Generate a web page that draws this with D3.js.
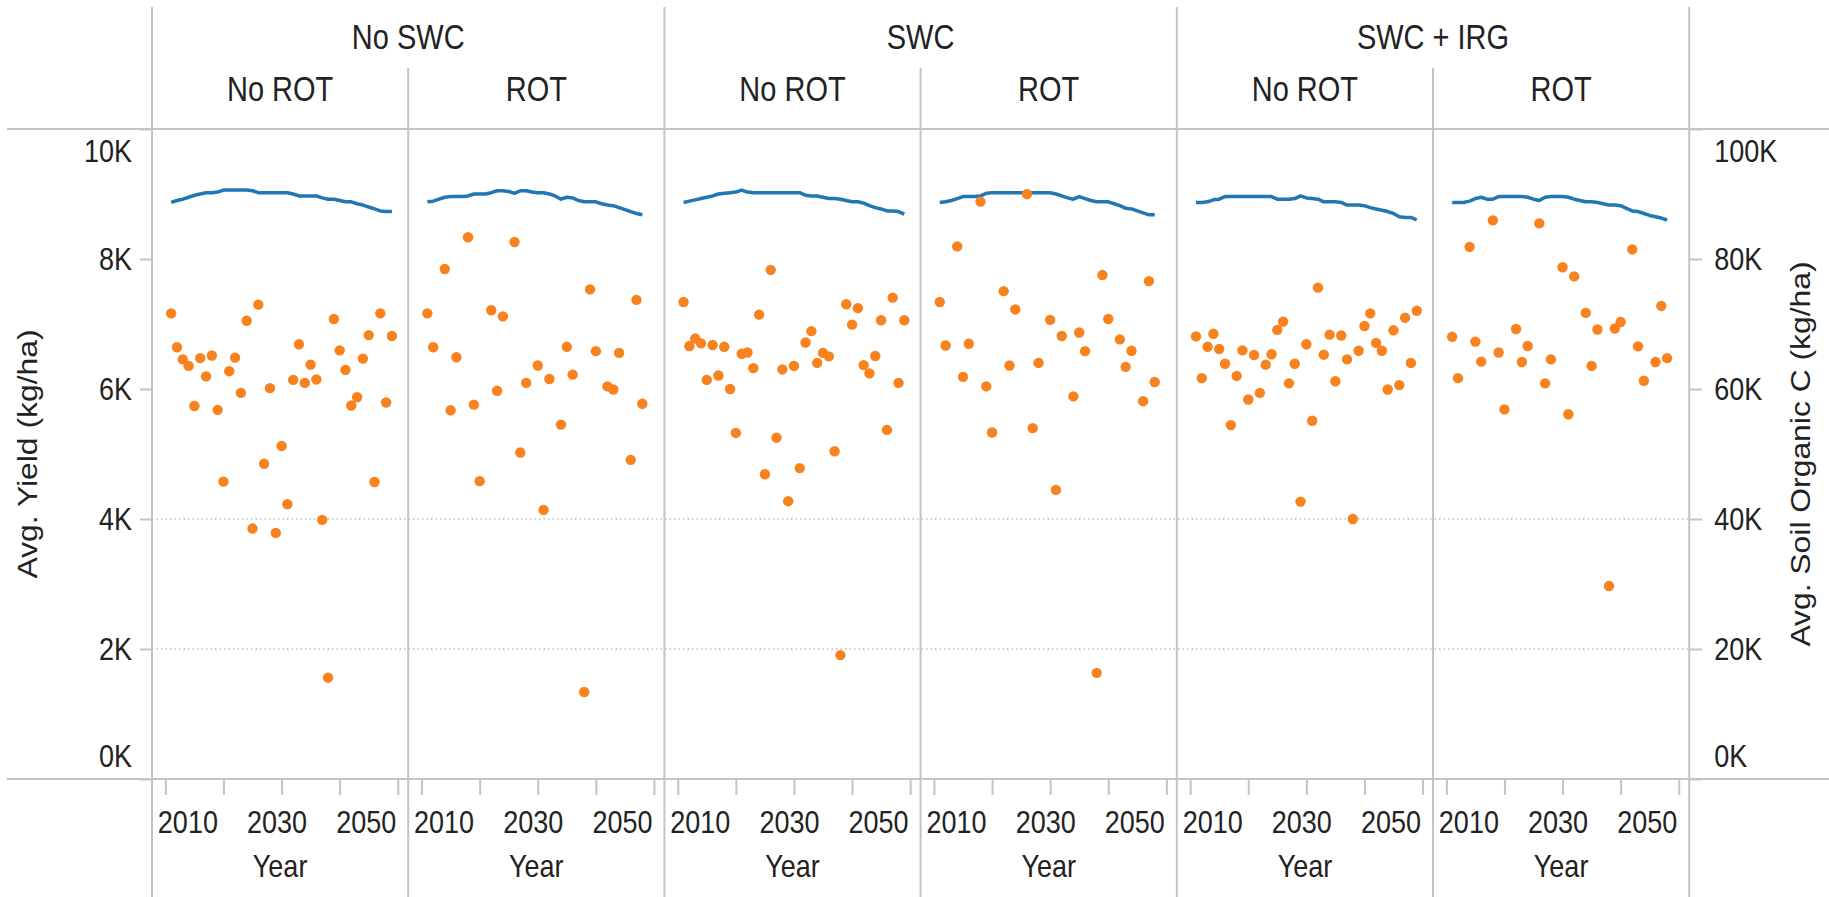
<!DOCTYPE html>
<html>
<head>
<meta charset="utf-8">
<script src="https://cdn.jsdelivr.net/npm/d3@7"></script>
<style>
  body { margin: 0; background: #fff; }
  text { font-family: "Liberation Sans", Arial, sans-serif; fill: #222; }
</style>
</head>
<body>
<svg id="chart" width="1829" height="897"></svg>
<script>
// categories
const groups = ["No SWC", "SWC", "SWC + IRG"];
const rotations = ["No ROT", "ROT"];
const years = [2011, 2012, 2013, 2014, 2015, 2016, 2017, 2018, 2019, 2020,
               2021, 2022, 2023, 2024, 2025, 2026, 2027, 2028, 2029, 2030,
               2031, 2032, 2033, 2034, 2035, 2036, 2037, 2038, 2039, 2040,
               2041, 2042, 2043, 2044, 2045, 2046, 2047, 2048, 2049];
const yearTicks = [2010, 2020, 2030, 2040, 2050];
const yieldTicks = [0, 2000, 4000, 6000, 8000, 10000];
const socTicks = [0, 20000, 40000, 60000, 80000, 100000];
const gridTicks = [2000, 4000];

// Avg. Yield (kg/ha), one value per year, null = no crop that year
const yieldNoSwcNoRot = [7164, 6642, 6455, 6355, 5739, 6475, 6194, 6515, 5679, 4575,
  6274, 6482, 5940, 7050, 3853, 7298, 4849, 6013, 3786, 5124,
  4227, 6140, 6689, 6094, 6375, 6147, 3987, 1559, 7077, 6595,
  6294, 5746, 5873, 6468, 6829, 4569, 7164, 5793, 6816];
const yieldNoSwcRot = [7164, 6642, null, 7846, 5672, 6488, null, 8334, 5759, 4582,
  null, 7211, 5973, 7117, null, 8261, 5023, 6094, null, 6361,
  4140, 6154, null, 5452, 6649, 6221, null, 1338, 7532, 6582,
  null, 6040, 5993, 6555, null, 4910, 7371, 5773, null];
const yieldSwcNoRot = [7338, 6662, 6776, 6702, 6140, 6676, 6207, 6649, 6000, 5324,
  6542, 6562, 6321, 7144, 4689, 7833, 5251, 6301, 4274, 6355,
  4783, 6716, 6890, 6401, 6555, 6502, 5043, 1906, 7304, 6990,
  7244, 6368, 6241, 6508, 7057, 5371, 7405, 6094, 7057];
const yieldSwcRot = [7338, 6669, null, 8194, 6187, 6696, null, 8883, 6040, 5331,
  null, 7505, 6361, 7224, null, 8997, 5398, 6401, null, 7064,
  4448, 6816, null, 5886, 6870, 6582, null, 1632, 7753, 7077,
  null, 6763, 6341, 6589, null, 5813, 7659, 6107, null];
const yieldIrgNoRot = [6809, 6167, 6649, 6849, 6615, 6388, 5445, 6201, 6595, 5839,
  6522, 5940, 6375, 6535, 6910, 7037, 6087, 6388, 4268, 6689,
  5512, 7559, 6528, 6836, 6120, 6823, 6455, 4000, 6589, 6970,
  7164, 6709, 6589, 5993, 6903, 6060, 7097, 6401, 7204];
const yieldIrgRot = [6803, 6167, null, 8187, 6729, 6421, null, 8595, 6562, 5686,
  null, 6923, 6415, 6662, null, 8548, 6087, 6455, null, 7873,
  5612, 7732, null, 7171, 6355, 6916, null, 2970, 6930, 7030,
  null, 8147, 6656, 6127, null, 6415, 7278, 6475, null];

// Avg. Soil Organic C (kg/ha)
const socNoSwcNoRot = [88700, 89000, 89200, 89500, 89800, 90000, 90200, 90200, 90300, 90600,
  90600, 90600, 90600, 90600, 90500, 90200, 90200, 90200, 90200, 90200,
  90200, 90000, 89700, 89700, 89700, 89700, 89400, 89200, 89200, 89000,
  88800, 88800, 88500, 88300, 88000, 87700, 87400, 87300, 87300];
const socNoSwcRot = [88800, 88900, 89200, 89500, 89600, 89600, 89600, 89700, 90000, 90000,
  90000, 90200, 90500, 90500, 90400, 90100, 90500, 90500, 90300, 90200,
  90200, 90000, 89700, 89200, 89500, 89400, 89000, 88800, 88800, 88800,
  88500, 88300, 88200, 87900, 87600, 87300, 87000, 86800, null];
const socSwcNoRot = [88700, 88900, 89100, 89300, 89500, 89700, 90000, 90100, 90200, 90300,
  90600, 90300, 90200, 90200, 90200, 90200, 90200, 90200, 90200, 90200,
  90200, 89800, 89700, 89700, 89500, 89300, 89300, 89200, 89000, 88800,
  88800, 88600, 88200, 87900, 87700, 87400, 87400, 87300, 86900];
const socSwcRot = [88700, 88800, 89000, 89300, 89600, 89600, 89600, 89700, 90100, 90200,
  90200, 90200, 90200, 90200, 90200, 90200, 90200, 90200, 90200, 90200,
  90000, 89700, 89400, 89200, 89600, 89300, 89000, 88800, 88800, 88800,
  88500, 88200, 87800, 87700, 87400, 87100, 86800, 86800, null];
const socIrgNoRot = [88700, 88700, 88800, 89100, 89200, 89600, 89600, 89600, 89600, 89600,
  89600, 89600, 89600, 89600, 89200, 89200, 89200, 89300, 89700, 89400,
  89300, 89200, 88800, 88800, 88800, 88700, 88300, 88300, 88300, 88200,
  87900, 87700, 87500, 87300, 87000, 86500, 86400, 86400, 86000];
const socIrgRot = [88700, 88700, 88700, 88900, 89300, 89500, 89200, 89200, 89600, 89600,
  89600, 89600, 89600, 89500, 89200, 89000, 89500, 89600, 89600, 89600,
  89500, 89200, 89000, 88800, 88800, 88700, 88500, 88300, 88300, 88200,
  87800, 87400, 87300, 87000, 86700, 86500, 86300, 86000, null];

const yieldSeries = [yieldNoSwcNoRot, yieldNoSwcRot, yieldSwcNoRot, yieldSwcRot, yieldIrgNoRot, yieldIrgRot];
const socSeries = [socNoSwcNoRot, socNoSwcRot, socSwcNoRot, socSwcRot, socIrgNoRot, socIrgRot];

// layout
const W = 1829, H = 897;
const padLeft = 152, paneW = 256.2, plotTop = 129, plotBottom = 779;
const SY = 1.18; // the picture is a little taller than wide, text too
const gridColor = "#c4c4c4";
const blue = "#1f77b4", orange = "#f7821e";

const svg = d3.select("#chart");

const x = d3.scaleLinear().domain([2007.7, 2051.8]).range([0, paneW]);
const y = d3.scaleLinear().domain([0, 10000]).range([plotBottom, plotTop]);
const y2 = d3.scaleLinear().domain([0, 100000]).range([plotBottom, plotTop]);

const label = (g, tx, ty, str, size, anchor, rot) =>
  g.append("text")
    .attr("transform", `translate(${tx},${ty}) scale(1,${SY})` + (rot ? " rotate(-90)" : ""))
    .attr("text-anchor", anchor)
    .attr("font-size", size)
    .text(str);

// dotted grid lines
svg.append("g").selectAll("line")
  .data(gridTicks)
  .join("line")
  .attr("x1", padLeft).attr("x2", padLeft + 6 * paneW)
  .attr("y1", d => y(d)).attr("y2", d => y(d))
  .attr("stroke", "#bdbdbd").attr("stroke-width", 1.5)
  .attr("stroke-dasharray", "1.5,3");

// frame lines
const frame = svg.append("g").attr("stroke", gridColor).attr("stroke-width", 2);
[plotTop, plotBottom].forEach(v => frame.append("line").attr("x1", 7).attr("x2", W).attr("y1", v).attr("y2", v));
d3.range(7).forEach(k => {
  frame.append("line")
    .attr("x1", padLeft + k * paneW).attr("x2", padLeft + k * paneW)
    .attr("y1", k % 2 === 0 ? 7 : 68).attr("y2", H);
});

// headers
groups.forEach((g, gi) => label(svg, padLeft + paneW * (2 * gi + 1), 49, g, 29, "middle"));

const line = d3.line()
  .defined(d => d.v != null)
  .x(d => x(d.year))
  .y(d => y2(d.v));

yieldSeries.forEach((ys, i) => {
  const pg = svg.append("g").attr("transform", `translate(${padLeft + i * paneW},0)`);
  label(pg, paneW / 2, 101, rotations[i % 2], 29, "middle");

  pg.append("path")
    .datum(years.map((yr, k) => ({year: yr, v: socSeries[i][k]})))
    .attr("fill", "none")
    .attr("stroke", blue)
    .attr("stroke-width", 3.5)
    .attr("stroke-linejoin", "round")
    .attr("d", line);

  pg.selectAll("circle")
    .data(years.map((yr, k) => ({year: yr, v: ys[k]})).filter(d => d.v != null))
    .join("circle")
    .attr("cx", d => x(d.year))
    .attr("cy", d => y(d.v))
    .attr("r", 5.2)
    .attr("fill", orange);

  const ax = pg.append("g")
    .attr("transform", `translate(0,${plotBottom})`)
    .call(d3.axisBottom(x).tickValues(yearTicks).tickSize(16).tickFormat(d => d % 20 === 10 ? d : ""));
  ax.select(".domain").remove();
  ax.selectAll(".tick line").attr("stroke", gridColor).attr("stroke-width", 2);
  ax.selectAll(".tick text")
    .attr("y", null).attr("dy", null)
    .attr("font-size", 27)
    .attr("font-family", null)
    .attr("fill", null)
    .attr("text-anchor", d => d === 2010 ? "start" : d === 2050 ? "end" : "middle")
    .attr("transform", d => `translate(${d === 2010 ? -8 : d === 2050 ? -2 : -5},54) scale(1,${SY})`);

  label(pg, paneW / 2, 877, "Year", 27, "middle");
});

// left axis
const edgeShift = d => d === 0 ? -23 : (d === 10000 || d === 100000) ? 22 : 0;
const ay = svg.append("g")
  .attr("transform", `translate(${padLeft},0)`)
  .call(d3.axisLeft(y).tickValues(yieldTicks).tickSize(12).tickFormat(d => d / 1000 + "K"));
ay.select(".domain").remove();
ay.selectAll(".tick line").attr("stroke", gridColor).attr("stroke-width", 2);
ay.selectAll(".tick text")
  .attr("x", -20).attr("dy", "0.32em")
  .attr("font-size", 27).attr("font-family", null).attr("fill", null)
  .attr("transform", d => `translate(0,${edgeShift(d)}) scale(1,${SY})`);

// right axis
const ar = svg.append("g")
  .attr("transform", `translate(${padLeft + 6 * paneW},0)`)
  .call(d3.axisRight(y2).tickValues(socTicks).tickSize(13).tickFormat(d => d / 1000 + "K"));
ar.select(".domain").remove();
ar.selectAll(".tick line").attr("stroke", gridColor).attr("stroke-width", 2);
ar.selectAll(".tick text")
  .attr("x", 25).attr("dy", "0.32em")
  .attr("font-size", 27).attr("font-family", null).attr("fill", null)
  .attr("transform", d => `translate(0,${edgeShift(d)}) scale(1,${SY})`);

// axis titles
label(svg, 37, (plotTop + plotBottom) / 2, "Avg. Yield (kg/ha)", 27, "middle", true);
label(svg, 1810, (plotTop + plotBottom) / 2, "Avg. Soil Organic C (kg/ha)", 27, "middle", true);
</script>
</body>
</html>
